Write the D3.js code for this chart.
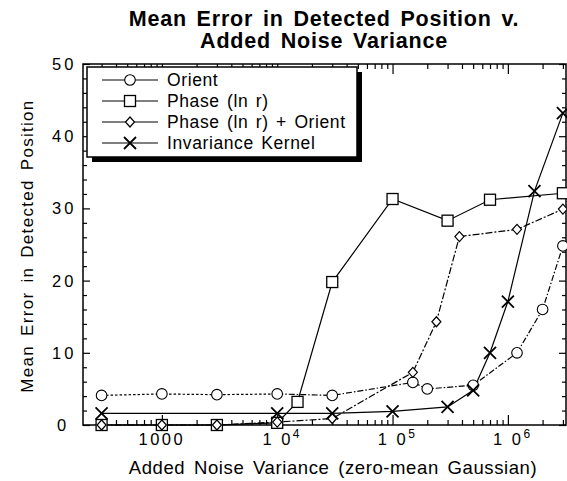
<!DOCTYPE html>
<html>
<head>
<meta charset="utf-8">
<script src="https://cdn.jsdelivr.net/npm/d3@7"></script>
<style>
  body { margin: 0; background: #fff; }
  svg { display: block; font-family: "Liberation Sans", Arial, sans-serif; }
</style>
</head>
<body>
<svg id="chart" width="567" height="481"></svg>
<script>
// values
const orientX = [300, 1000, 3000, 1e4, 3e4, 1.5e5, 2e5, 5e5, 1.2e6, 2e6, 3e6];
const orientY = [4.1, 4.3, 4.2, 4.3, 4.1, 5.9, 5.0, 5.5, 10.0, 16.0, 24.8];
const phaseX = [300, 1000, 3000, 1e4, 1.5e4, 3e4, 1e5, 3e5, 7e5, 3e6];
const phaseY = [0, 0, 0, 0.3, 3.2, 19.8, 31.3, 28.3, 31.2, 32.1];
const phaseOrientX = [300, 1000, 3000, 1e4, 3e4, 1.5e5, 2.4e5, 3.8e5, 1.2e6, 3e6];
const phaseOrientY = [0, 0, 0, 0.4, 0.9, 7.3, 14.3, 26.1, 27.1, 29.9];
const kernelX = [300, 1e4, 3e4, 1e5, 3e5, 5e5, 7e5, 1e6, 1.7e6, 3e6];
const kernelY = [1.6, 1.6, 1.6, 1.9, 2.5, 4.8, 10.0, 17.1, 32.4, 43.2];

const seriesNames = ["Orient", "Phase (ln r)", "Phase (ln r) + Orient", "Invariance Kernel"];
const yTicks = [0, 10, 20, 30, 40, 50];
const xMajor = [1000, 1e4, 1e5, 1e6];
const xLabels = [["1000", ""], ["1 0", "4"], ["1 0", "5"], ["1 0", "6"]];

const svg = d3.select("#chart");
const plotLeft = 83, plotRight = 566, plotTop = 64, plotBottom = 425;

const x = d3.scaleLog().domain([Math.pow(10, 2.316), Math.pow(10, 6.504)]).range([plotLeft, plotRight]);
const y = d3.scaleLinear().domain([0, 50]).range([plotBottom, plotTop]);

// minor ticks for the log axis
const xMinor = [];
for (let e = 2; e <= 6; e++) {
    for (let m = 2; m <= 9; m++) {
        const v = m * Math.pow(10, e);
        if (v > x.domain()[0] && v < x.domain()[1]) xMinor.push(v);
    }
}
const yMinor = d3.range(0, 51, 2).filter(v => v % 10 !== 0);

const axisG = svg.append("g");

function ticks(axisFn, scale, vals, size, tf) {
    const a = axisFn(scale).tickValues(vals).tickSizeInner(-size).tickSizeOuter(0).tickFormat("");
    const g = axisG.append("g").attr("transform", tf).call(a);
    g.select(".domain").remove();
    g.selectAll("line").attr("stroke", "#000").attr("stroke-width", 1.2);
}
ticks(d3.axisBottom, x, xMajor, 10, `translate(0,${plotBottom})`);
ticks(d3.axisBottom, x, xMinor, 5, `translate(0,${plotBottom})`);
ticks(d3.axisTop, x, xMajor, 10, `translate(0,${plotTop})`);
ticks(d3.axisTop, x, xMinor, 5, `translate(0,${plotTop})`);
ticks(d3.axisLeft, y, yTicks, 7, `translate(${plotLeft},0)`);
ticks(d3.axisLeft, y, yMinor, 4, `translate(${plotLeft},0)`);
ticks(d3.axisRight, y, yTicks, 7, `translate(${plotRight},0)`);
ticks(d3.axisRight, y, yMinor, 4, `translate(${plotRight},0)`);

// frame
svg.append("rect")
    .attr("x", plotLeft).attr("y", plotTop)
    .attr("width", plotRight - plotLeft).attr("height", plotBottom - plotTop)
    .attr("fill", "none").attr("stroke", "#000").attr("stroke-width", 1.5);

// tick labels
svg.append("g").selectAll("text").data(yTicks).join("text")
    .attr("x", d => d === 0 ? 57 : 52).attr("y", d => y(d)).attr("dy", "0.36em")
    .attr("font-size", 16.5).attr("letter-spacing", 3)
    .text(d => String(d));

const xl = svg.append("g").selectAll("text").data(xMajor).join("text")
    .attr("x", (d, i) => x(d) + (xLabels[i][1] ? 5 : 0))
    .attr("y", 445).attr("text-anchor", "middle").attr("font-size", 16.5).attr("letter-spacing", 2.5);
xl.append("tspan").text((d, i) => xLabels[i][0]);
xl.append("tspan").attr("dy", -7).attr("font-size", 12).text((d, i) => xLabels[i][1]);

// titles
svg.append("text").attr("x", 324).attr("y", 26).attr("text-anchor", "middle")
    .attr("font-size", 21.5).attr("font-weight", "bold").attr("letter-spacing", 0.8).attr("word-spacing", 3)
    .text("Mean Error in Detected Position v.");
svg.append("text").attr("x", 324).attr("y", 48).attr("text-anchor", "middle")
    .attr("font-size", 21.5).attr("font-weight", "bold").attr("letter-spacing", 0.8).attr("word-spacing", 3)
    .text("Added Noise Variance");
svg.append("text").attr("x", 333).attr("y", 474).attr("text-anchor", "middle")
    .attr("font-size", 18.5).attr("letter-spacing", 0.6).attr("word-spacing", 3)
    .text("Added Noise Variance (zero-mean Gaussian)");
svg.append("text").attr("transform", "translate(33,246) rotate(-90)")
    .attr("text-anchor", "middle").attr("font-size", 17).attr("letter-spacing", 1.3).attr("word-spacing", 3)
    .text("Mean Error in Detected Position");

// data series
const series = [
    { xs: orientX, ys: orientY, dash: "2.5,2", dash2: "6,2,1.5,2", split: 3, mark: "circle" },
    { xs: phaseX, ys: phaseY, dash: null, mark: "square" },
    { xs: phaseOrientX, ys: phaseOrientY, dash: "7,2,2,2", mark: "diamond" },
    { xs: kernelX, ys: kernelY, dash: null, mark: "cross" }
];

function drawMark(g, type, cx, cy) {
    if (type === "circle") {
        g.append("circle").attr("cx", cx).attr("cy", cy).attr("r", 5.3)
            .attr("fill", "#fff").attr("stroke", "#000").attr("stroke-width", 1.1);
    } else if (type === "square") {
        g.append("rect").attr("x", cx - 5.5).attr("y", cy - 5.5).attr("width", 11).attr("height", 11)
            .attr("fill", "#fff").attr("stroke", "#000").attr("stroke-width", 1.3);
    } else if (type === "diamond") {
        g.append("path").attr("d", `M${cx},${cy - 5}L${cx + 4.5},${cy}L${cx},${cy + 5}L${cx - 4.5},${cy}Z`)
            .attr("fill", "#fff").attr("stroke", "#000").attr("stroke-width", 1.2);
    } else {
        g.append("path").attr("d", `M${cx - 6},${cy - 6}L${cx + 6},${cy + 6}M${cx + 6},${cy - 6}L${cx - 6},${cy + 6}`)
            .attr("fill", "none").attr("stroke", "#000").attr("stroke-width", 1.8);
    }
}

const line = d3.line().x(d => x(d[0])).y(d => y(d[1]));
const plot = svg.append("g");
series.forEach(s => {
    const pts = s.xs.map((v, i) => [v, s.ys[i]]);
    const parts = s.split ? [[pts.slice(0, s.split + 1), s.dash], [pts.slice(s.split), s.dash2]] : [[pts, s.dash]];
    parts.forEach(([p, dash]) => {
        plot.append("path").attr("d", line(p)).attr("fill", "none")
            .attr("stroke", "#000").attr("stroke-width", 1.2)
            .attr("stroke-dasharray", dash);
    });
});
series.forEach(s => {
    const g = plot.append("g");
    s.xs.forEach((v, i) => drawMark(g, s.mark, x(v), y(s.ys[i])));
});

// legend with drop shadow
const lg = svg.append("g");
const lx = 87, ly = 67, lw = 270, lh = 90;
lg.append("rect").attr("x", lx + 5).attr("y", ly + 5).attr("width", lw).attr("height", lh).attr("fill", "#000");
lg.append("rect").attr("x", lx).attr("y", ly).attr("width", lw).attr("height", lh)
    .attr("fill", "#fff").attr("stroke", "#000").attr("stroke-width", 1.5);
seriesNames.forEach((name, i) => {
    const yy = ly + 13 + i * 21;
    lg.append("line").attr("x1", 102).attr("x2", 158).attr("y1", yy).attr("y2", yy)
        .attr("stroke", "#000").attr("stroke-width", 1.1);
    drawMark(lg, series[i].mark, 130, yy);
    lg.append("text").attr("x", 167).attr("y", yy).attr("dy", "0.36em")
        .attr("font-size", 17.5).attr("letter-spacing", 0.6).attr("word-spacing", 2).text(name);
});
</script>
</body>
</html>
